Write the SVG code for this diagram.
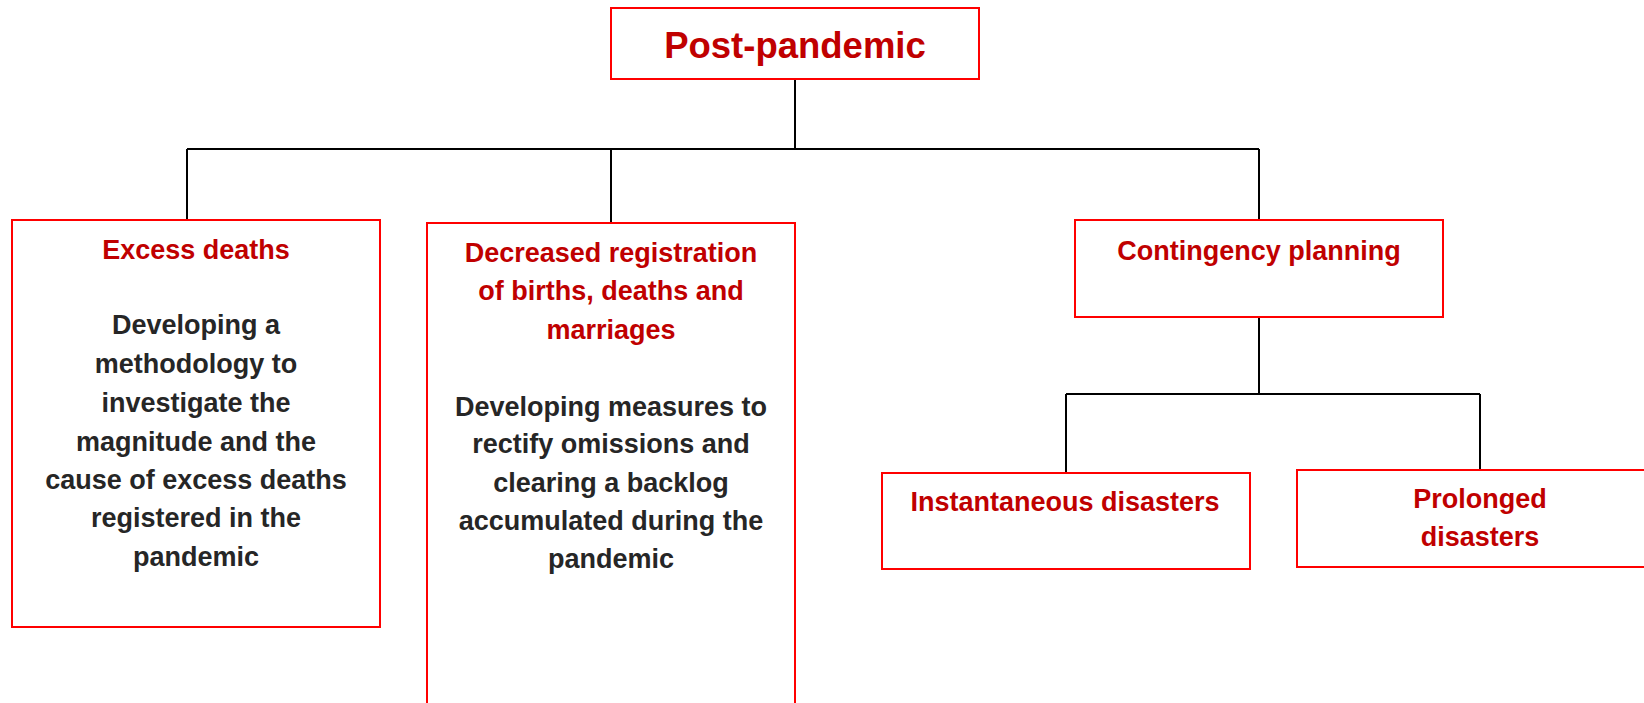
<svg xmlns="http://www.w3.org/2000/svg" width="1644" height="703" viewBox="0 0 1644 703">
<style>
.box{fill:#fff;stroke:#ff0000;stroke-width:2}
.t{font-family:"Liberation Sans",Arial,sans-serif;font-weight:bold;font-size:27px;text-anchor:middle}
.red{fill:#c00000}
.dark{fill:#262626}
.conn{fill:none;stroke:#000;stroke-width:2}
</style>
<rect width="1644" height="703" fill="#fff"/>
<g id="connectors">
<path class="conn" d="M795 79V149M187 149H1259M187 149V220M611 149V223M1259 149V220"/>
<path class="conn" d="M1259 317V394M1066 394H1480M1066 394V473M1480 394V470"/>
</g>
<g id="post-pandemic">
<rect class="box" x="611" y="8" width="368" height="71"/>
<text class="t red" x="795" y="58" style="font-size:36.5px">Post-pandemic</text>
</g>
<g id="excess-deaths">
<rect class="box" x="12" y="220" width="368" height="407"/>
<text class="t red" x="196" y="259">Excess deaths</text>
<text class="t dark" x="196" y="334">Developing a</text>
<text class="t dark" x="196" y="373">methodology to</text>
<text class="t dark" x="196" y="412">investigate the</text>
<text class="t dark" x="196" y="451">magnitude and the</text>
<text class="t dark" x="196" y="489">cause of excess deaths</text>
<text class="t dark" x="196" y="527">registered in the</text>
<text class="t dark" x="196" y="566">pandemic</text>
</g>
<g id="decreased-registration">
<rect class="box" x="427" y="223" width="368" height="500"/>
<text class="t red" x="611" y="262">Decreased registration</text>
<text class="t red" x="611" y="300">of births, deaths and</text>
<text class="t red" x="611" y="339">marriages</text>
<text class="t dark" x="611" y="416">Developing measures to</text>
<text class="t dark" x="611" y="453">rectify omissions and</text>
<text class="t dark" x="611" y="492">clearing a backlog</text>
<text class="t dark" x="611" y="530">accumulated during the</text>
<text class="t dark" x="611" y="568">pandemic</text>
</g>
<g id="contingency-planning">
<rect class="box" x="1075" y="220" width="368" height="97"/>
<text class="t red" x="1259" y="260">Contingency planning</text>
</g>
<g id="instantaneous-disasters">
<rect class="box" x="882" y="473" width="368" height="96"/>
<text class="t red" x="1065" y="511">Instantaneous disasters</text>
</g>
<g id="prolonged-disasters">
<rect class="box" x="1297" y="470" width="360" height="97"/>
<text class="t red" x="1480" y="508">Prolonged</text>
<text class="t red" x="1480" y="546">disasters</text>
</g>
</svg>
